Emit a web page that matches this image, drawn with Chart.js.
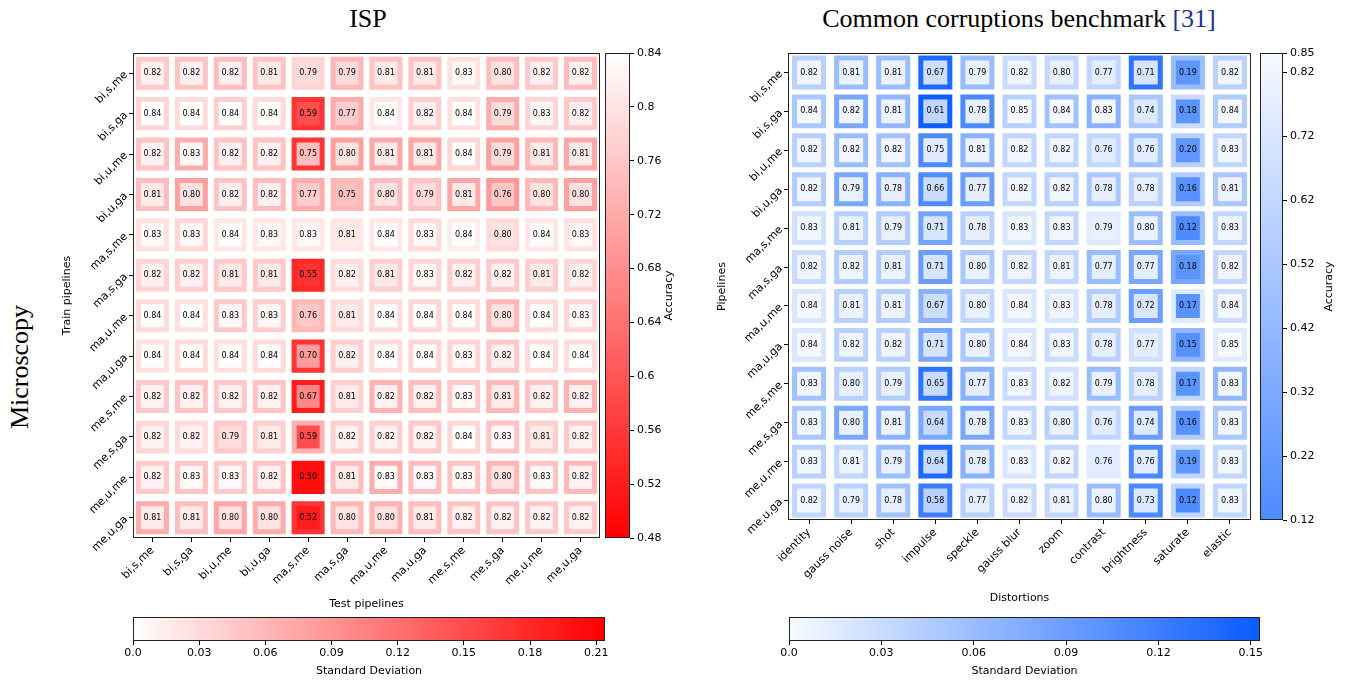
<!DOCTYPE html>
<html>
<head>
<meta charset="utf-8">
<script src="https://cdn.jsdelivr.net/npm/chart.js@4.4.1/dist/chart.umd.min.js"></script>
<style>
  body { margin: 0; background: #fff; width: 1348px; height: 681px; overflow: hidden; position: relative; }
  canvas { position: absolute; }
  .ttl { position: absolute; font-family: 'Liberation Serif', 'Times New Roman', serif; font-size: 26px; line-height: 26px; color: #000; white-space: nowrap; }
</style>
</head>
<body>
<div class="ttl" style="left:368px; top:6px; transform:translateX(-50%);">ISP</div>
<div class="ttl" style="left:1019px; top:6px; transform:translateX(-50%);">Common corruptions benchmark <span style="color:#1f2f95">[31]</span></div>
<div class="ttl" style="left:20px; top:367px; transform:translate(-50%,-50%) rotate(-90deg);">Microscopy</div>

<canvas id="heatL" width="545" height="570" style="left:57px; top:45px"></canvas>
<canvas id="accBarL" width="100" height="500" style="left:603px; top:45px"></canvas>
<canvas id="stdBarL" width="496" height="69" style="left:121px; top:613px"></canvas>

<canvas id="heatR" width="541" height="564" style="left:712px; top:45px"></canvas>
<canvas id="accBarR" width="90" height="482" style="left:1258px; top:45px"></canvas>
<canvas id="stdBarR" width="495" height="69" style="left:777px; top:613px"></canvas>

<script>
// ---- data ----
const ispPipelines = ['bi,s,me', 'bi,s,ga', 'bi,u,me', 'bi,u,ga', 'ma,s,me', 'ma,s,ga',
  'ma,u,me', 'ma,u,ga', 'me,s,me', 'me,s,ga', 'me,u,me', 'me,u,ga'];
const distortions = ['identity', 'gauss noise', 'shot', 'impulse', 'speckle', 'gauss blur',
  'zoom', 'contrast', 'brightness', 'saturate', 'elastic'];

// rows = train pipelines, cols = test pipelines
const ispAccuracy = [
  [0.82, 0.82, 0.82, 0.81, 0.79, 0.79, 0.81, 0.81, 0.83, 0.80, 0.82, 0.82],
  [0.84, 0.84, 0.84, 0.84, 0.59, 0.77, 0.84, 0.82, 0.84, 0.79, 0.83, 0.82],
  [0.82, 0.83, 0.82, 0.82, 0.75, 0.80, 0.81, 0.81, 0.84, 0.79, 0.81, 0.81],
  [0.81, 0.80, 0.82, 0.82, 0.77, 0.75, 0.80, 0.79, 0.81, 0.76, 0.80, 0.80],
  [0.83, 0.83, 0.84, 0.83, 0.83, 0.81, 0.84, 0.83, 0.84, 0.80, 0.84, 0.83],
  [0.82, 0.82, 0.81, 0.81, 0.55, 0.82, 0.81, 0.83, 0.82, 0.82, 0.81, 0.82],
  [0.84, 0.84, 0.83, 0.83, 0.76, 0.81, 0.84, 0.84, 0.84, 0.80, 0.84, 0.83],
  [0.84, 0.84, 0.84, 0.84, 0.70, 0.82, 0.84, 0.84, 0.83, 0.82, 0.84, 0.84],
  [0.82, 0.82, 0.82, 0.82, 0.67, 0.81, 0.82, 0.82, 0.83, 0.81, 0.82, 0.82],
  [0.82, 0.82, 0.79, 0.81, 0.59, 0.82, 0.82, 0.82, 0.84, 0.83, 0.81, 0.82],
  [0.82, 0.83, 0.83, 0.82, 0.50, 0.81, 0.83, 0.83, 0.83, 0.80, 0.83, 0.82],
  [0.81, 0.81, 0.80, 0.80, 0.52, 0.80, 0.80, 0.81, 0.82, 0.82, 0.82, 0.82]
];
// std estimated from the border shade
const ispStd = [
  [0.045, 0.050, 0.055, 0.050, 0.035, 0.060, 0.050, 0.050, 0.025, 0.055, 0.045, 0.055],
  [0.035, 0.030, 0.040, 0.030, 0.170, 0.070, 0.020, 0.040, 0.025, 0.070, 0.035, 0.045],
  [0.050, 0.070, 0.050, 0.050, 0.170, 0.080, 0.075, 0.075, 0.035, 0.080, 0.060, 0.075],
  [0.055, 0.080, 0.050, 0.055, 0.070, 0.060, 0.055, 0.050, 0.075, 0.085, 0.060, 0.080],
  [0.025, 0.035, 0.020, 0.020, 0.020, 0.020, 0.020, 0.030, 0.015, 0.030, 0.020, 0.025],
  [0.035, 0.040, 0.045, 0.045, 0.180, 0.030, 0.040, 0.035, 0.040, 0.045, 0.040, 0.035],
  [0.030, 0.025, 0.045, 0.040, 0.060, 0.030, 0.030, 0.035, 0.030, 0.060, 0.030, 0.035],
  [0.025, 0.030, 0.025, 0.030, 0.170, 0.040, 0.030, 0.035, 0.035, 0.045, 0.030, 0.030],
  [0.045, 0.050, 0.045, 0.050, 0.190, 0.040, 0.065, 0.055, 0.045, 0.060, 0.050, 0.065],
  [0.035, 0.030, 0.045, 0.040, 0.065, 0.040, 0.040, 0.045, 0.035, 0.050, 0.040, 0.045],
  [0.045, 0.050, 0.045, 0.050, 0.200, 0.055, 0.070, 0.055, 0.050, 0.060, 0.050, 0.060],
  [0.070, 0.055, 0.075, 0.070, 0.170, 0.060, 0.065, 0.055, 0.050, 0.050, 0.045, 0.045]
];

// rows = pipelines, cols = distortions
const corrAccuracy = [
  [0.82, 0.81, 0.81, 0.67, 0.79, 0.82, 0.80, 0.77, 0.71, 0.19, 0.82],
  [0.84, 0.82, 0.81, 0.61, 0.78, 0.85, 0.84, 0.83, 0.74, 0.18, 0.84],
  [0.82, 0.82, 0.82, 0.75, 0.81, 0.82, 0.82, 0.76, 0.76, 0.20, 0.83],
  [0.82, 0.79, 0.78, 0.66, 0.77, 0.82, 0.82, 0.78, 0.78, 0.16, 0.81],
  [0.83, 0.81, 0.79, 0.71, 0.78, 0.83, 0.83, 0.79, 0.80, 0.12, 0.83],
  [0.82, 0.82, 0.81, 0.71, 0.80, 0.82, 0.81, 0.77, 0.77, 0.18, 0.82],
  [0.84, 0.81, 0.81, 0.67, 0.80, 0.84, 0.83, 0.78, 0.72, 0.17, 0.84],
  [0.84, 0.82, 0.82, 0.71, 0.80, 0.84, 0.83, 0.78, 0.77, 0.15, 0.85],
  [0.83, 0.80, 0.79, 0.65, 0.77, 0.83, 0.82, 0.79, 0.78, 0.17, 0.83],
  [0.83, 0.80, 0.81, 0.64, 0.78, 0.83, 0.80, 0.76, 0.74, 0.16, 0.83],
  [0.83, 0.81, 0.79, 0.64, 0.78, 0.83, 0.82, 0.76, 0.76, 0.19, 0.83],
  [0.82, 0.79, 0.78, 0.58, 0.77, 0.82, 0.81, 0.80, 0.73, 0.12, 0.83]
];
const corrStd = [
  [0.040, 0.060, 0.060, 0.140, 0.060, 0.030, 0.035, 0.035, 0.130, 0.060, 0.040],
  [0.050, 0.080, 0.065, 0.150, 0.110, 0.040, 0.055, 0.070, 0.050, 0.030, 0.045],
  [0.040, 0.060, 0.055, 0.110, 0.070, 0.035, 0.035, 0.035, 0.055, 0.040, 0.035],
  [0.045, 0.080, 0.070, 0.110, 0.090, 0.035, 0.040, 0.050, 0.040, 0.045, 0.050],
  [0.025, 0.040, 0.045, 0.085, 0.040, 0.020, 0.035, 0.015, 0.060, 0.060, 0.035],
  [0.030, 0.045, 0.045, 0.090, 0.050, 0.035, 0.035, 0.060, 0.080, 0.080, 0.035],
  [0.020, 0.040, 0.045, 0.070, 0.035, 0.020, 0.020, 0.045, 0.090, 0.015, 0.030],
  [0.020, 0.040, 0.040, 0.080, 0.050, 0.020, 0.030, 0.040, 0.025, 0.065, 0.015],
  [0.055, 0.040, 0.045, 0.130, 0.070, 0.030, 0.025, 0.060, 0.040, 0.035, 0.065],
  [0.050, 0.080, 0.070, 0.080, 0.080, 0.035, 0.040, 0.035, 0.090, 0.045, 0.050],
  [0.040, 0.035, 0.060, 0.140, 0.070, 0.020, 0.035, 0.015, 0.110, 0.035, 0.035],
  [0.035, 0.040, 0.055, 0.120, 0.040, 0.030, 0.035, 0.060, 0.110, 0.035, 0.035]
];

// colorbar ranges and tick labels
const ispAccRange = [0.48, 0.84];
const ispStdRange = [0, 0.214];
const corrAccRange = [0.12, 0.85];
const corrStdRange = [0, 0.153];
const ispAccTicks = [0.84, 0.8, 0.76, 0.72, 0.68, 0.64, 0.6, 0.56, 0.52, 0.48];
const ispStdTicks = [0, 0.03, 0.06, 0.09, 0.12, 0.15, 0.18, 0.21];
const corrAccTicks = [0.85, 0.82, 0.72, 0.62, 0.52, 0.42, 0.32, 0.22, 0.12];
const corrStdTicks = [0, 0.03, 0.06, 0.09, 0.12, 0.15];

// ---- colours ----
const WHITE = [255, 255, 255];
const RED = [255, 0, 0];
const redAcc = { lo: RED, hi: WHITE, range: ispAccRange };
const redStd = { lo: WHITE, hi: RED, range: ispStdRange };
const blueAcc = { lo: [77, 139, 255], hi: [247, 250, 255], range: corrAccRange };
const blueStd = { lo: [247, 251, 255], hi: [10, 92, 255], range: corrStdRange };

function mix(lo, hi, t) {
  t = Math.max(0, Math.min(1, t));
  return 'rgb(' + lo.map((c, i) => Math.round(c + (hi[i] - c) * t)).join(',') + ')';
}
function colorOf(cmap, v) {
  return mix(cmap.lo, cmap.hi, (v - cmap.range[0]) / (cmap.range[1] - cmap.range[0]));
}
const fmt = v => (v === 0 ? '0.0' : String(Math.round(v * 100) / 100));

Chart.defaults.font.family = "'DejaVu Sans', sans-serif";
Chart.defaults.font.size = 11;
Chart.defaults.color = '#000';

const baseOptions = {
  responsive: false,
  animation: false,
  devicePixelRatio: 1,
  events: [],
  plugins: { legend: { display: false }, tooltip: { enabled: false } }
};

// black box round the plot area
const framePlugin = {
  id: 'frame',
  afterDraw(chart) {
    const { ctx, chartArea: a } = chart;
    ctx.save();
    ctx.strokeStyle = '#222';
    ctx.lineWidth = 1;
    ctx.strokeRect(Math.round(a.left) + 0.5, Math.round(a.top) + 0.5,
      Math.round(a.right - a.left) - 1, Math.round(a.bottom - a.top) - 1);
    ctx.restore();
  }
};

function noPad(s) { s.paddingTop = 0; s.paddingBottom = 0; s.paddingLeft = 0; s.paddingRight = 0; }

function createHeatmap(id, rows, cols, acc, std, accMap, stdMap, cfg) {
  const points = [], fills = [], borders = [];
  rows.forEach((r, i) => cols.forEach((c, j) => {
    points.push({ x: j, y: i, v: acc[i][j] });
    fills.push(colorOf(accMap, acc[i][j]));
    borders.push(colorOf(stdMap, std[i][j]));
  }));

  const cellText = {
    id: 'cellText',
    afterDatasetsDraw(chart) {
      const { ctx } = chart;
      const meta = chart.getDatasetMeta(0);
      ctx.save();
      ctx.font = "8px 'DejaVu Sans', sans-serif";
      ctx.fillStyle = '#000';
      ctx.textAlign = 'center';
      ctx.textBaseline = 'middle';
      meta.data.forEach((el, k) => ctx.fillText(points[k].v.toFixed(2), el.x, el.y));
      ctx.restore();
    }
  };

  new Chart(document.getElementById(id), {
    type: 'scatter',
    data: {
      datasets: [{
        data: points,
        pointStyle: 'rect',
        pointRadius: cfg.radius,
        pointBackgroundColor: fills,
        pointBorderColor: borders,
        pointBorderWidth: 5
      }]
    },
    options: {
      ...baseOptions,
      layout: { autoPadding: false, padding: { top: 8, right: 2, left: 0, bottom: 0 } },
      scales: {
        x: {
          type: 'linear', min: -0.5, max: cols.length - 0.5,
          afterBuildTicks: s => { s.ticks = cols.map((_, i) => ({ value: i })); },
          afterFit: s => { s.height = cfg.xHeight; noPad(s); },
          ticks: { autoSkip: false, minRotation: 45, maxRotation: 45, padding: 2, callback: v => cols[v] },
          grid: { drawOnChartArea: false, tickLength: 4, color: '#000' },
          border: { display: false },
          title: { display: true, text: cfg.xTitle, padding: { top: 0, bottom: 4 } }
        },
        y: {
          type: 'linear', reverse: true, min: -0.5, max: rows.length - 0.5,
          afterBuildTicks: s => { s.ticks = rows.map((_, i) => ({ value: i })); },
          afterFit: s => { s.width = cfg.yWidth; noPad(s); },
          ticks: { autoSkip: false, minRotation: 45, maxRotation: 45, padding: 3, callback: v => rows[v] },
          grid: { drawOnChartArea: false, tickLength: 4, color: '#000' },
          border: { display: false },
          title: { display: true, text: cfg.yTitle, padding: { top: 4, bottom: 0 } }
        }
      }
    },
    plugins: [cellText, framePlugin]
  });
}

function sideLabel(text, offset) {
  return {
    id: 'sideLabel',
    afterDraw(chart) {
      const { ctx, chartArea: a } = chart;
      ctx.save();
      ctx.translate(a.right + offset, (a.top + a.bottom) / 2);
      ctx.rotate(-Math.PI / 2);
      ctx.font = "11px 'DejaVu Sans', sans-serif";
      ctx.fillStyle = '#000';
      ctx.textAlign = 'center';
      ctx.textBaseline = 'middle';
      ctx.fillText(text, 0, 0);
      ctx.restore();
    }
  };
}

// vertical accuracy colorbar
function createAccBar(id, cmap, ticks, axisWidth, labelOffset) {
  new Chart(document.getElementById(id), {
    type: 'bar',
    data: {
      labels: [''],
      datasets: [{
        data: [[cmap.range[0], cmap.range[1]]],
        backgroundColor: ctx => {
          const a = ctx.chart.chartArea;
          if (!a) return null;
          const g = ctx.chart.ctx.createLinearGradient(0, a.bottom, 0, a.top);
          g.addColorStop(0, mix(cmap.lo, cmap.hi, 0));
          g.addColorStop(1, mix(cmap.lo, cmap.hi, 1));
          return g;
        },
        borderWidth: 0, borderSkipped: false,
        barPercentage: 1, categoryPercentage: 1
      }]
    },
    options: {
      ...baseOptions,
      layout: { autoPadding: false, padding: { top: 8, left: 2, right: 0, bottom: 7 } },
      scales: {
        x: { display: false },
        y: {
          position: 'right', min: cmap.range[0], max: cmap.range[1],
          afterBuildTicks: s => { s.ticks = ticks.map(v => ({ value: v })); },
          afterFit: s => { s.width = axisWidth; noPad(s); },
          ticks: { padding: 3, callback: v => fmt(v) },
          grid: { drawOnChartArea: false, tickLength: 4, color: '#000' },
          border: { display: false }
        }
      }
    },
    plugins: [framePlugin, sideLabel('Accuracy', labelOffset)]
  });
}

// horizontal std colorbar
function createStdBar(id, cmap, ticks) {
  new Chart(document.getElementById(id), {
    type: 'bar',
    data: {
      labels: [''],
      datasets: [{
        data: [[cmap.range[0], cmap.range[1]]],
        backgroundColor: ctx => {
          const a = ctx.chart.chartArea;
          if (!a) return null;
          const g = ctx.chart.ctx.createLinearGradient(a.left, 0, a.right, 0);
          g.addColorStop(0, mix(cmap.lo, cmap.hi, 0));
          g.addColorStop(1, mix(cmap.lo, cmap.hi, 1));
          return g;
        },
        borderWidth: 0, borderSkipped: false,
        barPercentage: 1, categoryPercentage: 1
      }]
    },
    options: {
      ...baseOptions,
      indexAxis: 'y',
      layout: { autoPadding: false, padding: { top: 4, left: 12, right: 12, bottom: 0 } },
      scales: {
        y: { display: false },
        x: {
          min: cmap.range[0], max: cmap.range[1],
          afterBuildTicks: s => { s.ticks = ticks.map(v => ({ value: v })); },
          afterFit: s => { s.height = 41; noPad(s); },
          ticks: { padding: 2, maxRotation: 0, callback: v => fmt(v) },
          grid: { drawOnChartArea: false, tickLength: 4, color: '#000' },
          border: { display: false },
          title: { display: true, text: 'Standard Deviation', padding: { top: 0, bottom: 4 } }
        }
      }
    },
    plugins: [framePlugin]
  });
}

createHeatmap('heatL', ispPipelines, ispPipelines, ispAccuracy, ispStd, redAcc, redStd,
  { radius: 19.8, xHeight: 77, yWidth: 76, xTitle: 'Test pipelines', yTitle: 'Train pipelines' });
createHeatmap('heatR', ispPipelines, distortions, corrAccuracy, corrStd, blueAcc, blueStd,
  { radius: 20.5, xHeight: 89, yWidth: 76, xTitle: 'Distortions', yTitle: 'Pipelines' });

createAccBar('accBarL', redAcc, ispAccTicks, 73, 39);
createAccBar('accBarR', blueAcc, corrAccTicks, 65, 46);
createStdBar('stdBarL', redStd, ispStdTicks);
createStdBar('stdBarR', blueStd, corrStdTicks);
</script>
</body>
</html>
